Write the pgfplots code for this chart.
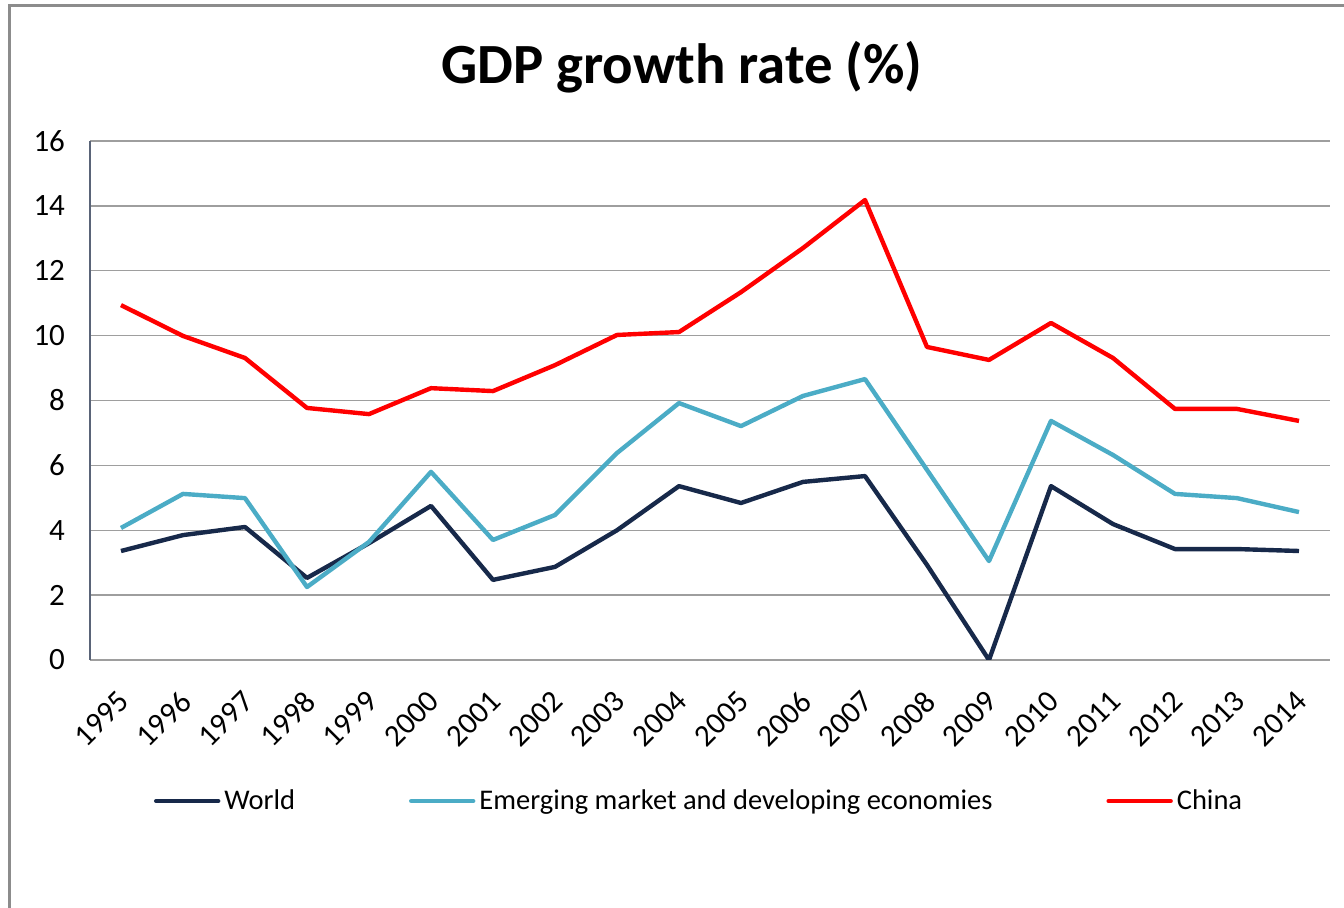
\documentclass[border=0pt]{standalone}
\usepackage{fontspec}
\setmainfont{Carlito}
\usepackage{pgfplots}
\usepackage{pgfplotstable}
\pgfplotsset{compat=1.18}
\definecolor{worldc}{HTML}{17294A}
\definecolor{emc}{HTML}{4BACC6}
\definecolor{chinac}{HTML}{FF0000}
\definecolor{gridc}{HTML}{9E9E9E}
\definecolor{framec}{HTML}{8C8C8C}
\definecolor{yaxc}{HTML}{5A6478}
\pgfplotstableread{
x world em china
0 3.36 4.07 10.94
1 3.85 5.12 9.99
2 4.10 4.99 9.31
3 2.53 2.25 7.77
4 3.60 3.64 7.58
5 4.75 5.80 8.38
6 2.47 3.70 8.29
7 2.87 4.47 9.09
8 4.00 6.38 10.02
9 5.36 7.92 10.11
10 4.84 7.21 11.34
11 5.49 8.14 12.70
12 5.67 8.66 14.18
13 2.93 5.86 9.65
14 0.00 3.05 9.25
15 5.36 7.37 10.39
16 4.19 6.32 9.31
17 3.42 5.12 7.74
18 3.42 4.99 7.74
19 3.36 4.56 7.37
}\gdp
\begin{document}
\begin{tikzpicture}[x=1pt,y=1pt]
\path[use as bounding box] (0,0) rectangle (672,454);
\draw[framec, line width=1.5pt] (4.5,0) -- (4.5,451) -- (672,451);
\node[font=\fontsize{28.4}{34}\selectfont\bfseries] at (341,420.5) {GDP growth rate (\%)};
\begin{axis}[
  at={(45pt,124pt)}, anchor=south west,
  scale only axis, width=620pt, height=259.5pt,
  xmin=-0.5, xmax=19.5, ymin=0, ymax=16,
  ytick={0,2,...,16},
  xtick={0,...,19},
  xticklabels={1995,1996,1997,1998,1999,2000,2001,2002,2003,2004,2005,2006,2007,2008,2009,2010,2011,2012,2013,2014},
  axis x line=bottom, axis y line=left,
  x axis line style={-, gridc, line width=0.7pt},
  y axis line style={-, yaxc, line width=0.6pt},
  major tick length=0pt,
  ymajorgrids, grid style={gridc, line width=0.7pt},
  /pgf/number format/assume math mode=true,
  tick label style={font=\fontsize{15.5}{18}\selectfont, text=black},
  yticklabel style={xshift=-9pt},
  xticklabel style={xshift=4pt, yshift=-15.8pt, rotate=45, anchor=east},
  legend style={at={(0.492,-0.2717)}, anchor=center, legend columns=3, draw=none, fill=none,
    font=\fontsize{14.25}{17}\selectfont,
    /tikz/every even column/.append style={column sep=55pt}},
  legend image code/.code={\draw[#1, line cap=round] (0pt,0pt) -- (31pt,0pt);},
  every axis plot/.append style={line width=2.2pt, line join=round},
]
\addplot[worldc, no markers] table[x=x, y=world] {\gdp};
\addlegendentry{World}
\addplot[emc, no markers] table[x=x, y=em] {\gdp};
\addlegendentry{Emerging market and developing economies}
\addplot[chinac, no markers] table[x=x, y=china] {\gdp};
\addlegendentry{China}
\end{axis}
\end{tikzpicture}
\end{document}
